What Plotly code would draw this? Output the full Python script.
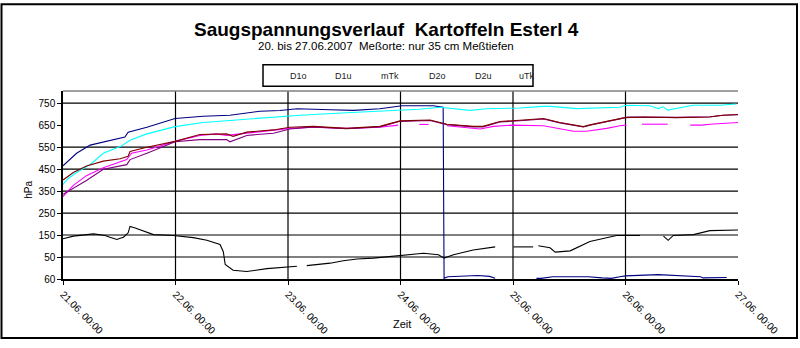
import plotly.graph_objects as go

# ---- data (hours since 21.06. 00:00) ----
tick_hours = [0, 24, 48, 72, 96, 120, 144]
tick_labels = ["21.06. 00:00", "22.06. 00:00", "23.06. 00:00", "24.06. 00:00",
               "25.06. 00:00", "26.06. 00:00", "27.06. 00:00"]
y_ticks = [-50, 50, 150, 250, 350, 450, 550, 650, 750]
y_ticklabels = ["60", "50", "150", "250", "350", "450", "550", "650", "750"]
y_grid = [50, 150, 250, 350, 450, 550, 750]
day_grid = [24, 48, 72, 96, 120]

legend_names = ["D1o", "D1u", "mTk", "D2o", "D2u", "uTk"]

t_d1o = [0, 1, 2.9, 5.8, 10, 13.2, 13.9, 17.9, 23.9, 29.9, 35.6, 42, 46.3, 48.4, 50, 57, 62,
         67.6, 69.5, 72.3, 79, 81.1, 81.3, 82.1, 88.5, 91, 92.2, None, 101, 102, 104.5, 110,
         112, 115, 117, 118.8, 120, 127, 132, 136, 136.5, 141, 141.6]
v_d1o = [465, 485, 522, 559, 581, 596, 618, 640, 680, 690, 695, 713, 716, 720, 724, 720, 717,
         724, 730, 738, 738, 731, -47, -40, -34, -38, -47, None, -47, -47, -40, -38,
         -40, -45, -47, -40, -36, -30, -36, -40, -45, -43, -43]

t_d1u = [0, 2.2, 5, 8.6, 13.6, 14.6, 17.9, 23.9, 29.2, 32.7, 34.9, 39.2, 44.9, 48.4, 53.4,
         60.5, 67.6, 69.8, 71.5, None, 76, 78, None, 81.9, 86.1, 89, 91.8, 96, 102.5, 106,
         108.9, 111.7, 116, 118.8, 120.2, None, 123.5, 129, None, 133.8, 136.3, 138, 142.3, 144]
v_d1u = [325, 376, 420, 456, 493, 522, 537, 576, 603, 610, 603, 613, 625, 635, 640,
         635, 640, 647, 650, None, 653, 653, None, 647, 640, 632, 644, 650, 647, 635,
         622, 622, 635, 647, 650, None, 654, 654, None, 650, 650, 654, 662, 662]

t_mtk = [0, 2.2, 6.5, 9, 10, 11.5, 12.2, 12.9, 13.9, 14.3, 15.4, 17.1, 19.3, 23.5, 27.8,
         30.7, 33.5, 34.2, 34.6, 36.3, 39.2, 43.5, 49.9, None, 52, 56.3, 57, 59.8, 62.7,
         66.2, 71.5, 76.9, 80.1, 81.3, 83.3, 87.5, 92.2, None, 96.1, 100.3, None, 101.4,
         103.9, 105, 108.2, 112.4, 118.1, 123.1, None, 128.1, 129.1, 130.2, 134.5, 138, 144]
v_mtk = [133, 145, 155, 148, 140, 130, 135, 140, 160, 189, 182, 170, 152, 148, 138,
         126, 107, 74, 16, -10, -16, -3, 8, None, 11, 19, 22, 33, 41,
         45, 55, 67, 60, 45, 60, 82, 96, None, 96, 96, None, 101,
         92, 72, 78, 121, 148, 148, None, 145, 126, 148, 152, 170, 173]

t_d2o = [0, 1, 2.9, 5.8, 8.6, 12.2, 14.3, 17.9, 23.9, 29.9, 36.3, 42, 46.3, 50.6, 60.5, 67.6,
         71.9, 76, 80.4, 83.2, 86.8, 90.4, 95.4, 97.5, 102.4, 104, 109.6, 118.8, 120.2, 125.2,
         127, 128, 129, 130, 131, 132, 134.4, 140, 143.7]
v_d2o = [380, 405, 434, 471, 522, 552, 581, 610, 643, 662, 672, 681, 690, 695, 706, 713,
         717, 722, 731, 725, 717, 724, 725, 728, 735, 735, 725, 731, 740, 738,
         725, 733, 718, 722, 728, 731, 740, 740, 746]

t_d2u = [0, 1.5, 5, 8.6, 12.2, 13.6, 14.3, 17.9, 23.9, 29.2, 34.9, 35.6, 39.2, 44.9, 48.4,
         53.4, 60.5, 67.6, 71.9, 78.3, 81.9, 87.5, 89.6, 93.2, 97.5, 102.5, 106, 111, 112.4,
         116.7, 119.9, 120.5, 130.9, 136, 138, 140.8, 144]
v_d2u = [335, 354, 398, 449, 464, 470, 493, 522, 574, 584, 584, 574, 603, 613, 632,
         642, 633, 642, 667, 671, 652, 642, 642, 664, 670, 678, 660, 641, 649,
         667, 682, 686, 685, 686, 688, 695, 697]

t_utk = [0, 2.2, 5, 8.6, 12.2, 13.9, 14.3, 17.9, 23.9, 29.2, 34.9, 36.3, 39.2, 44.9, 48.4,
         53.4, 60.5, 67.6, 71.9, 78.3, 81.9, 87.5, 89.6, 93.2, 97.5, 102.5, 106, 111, 112.4,
         116.7, 119.9, 123.8, 130.9, 138, 140.8, 144]
v_utk = [400, 434, 464, 486, 497, 508, 530, 549, 576, 607, 610, 599, 618, 628, 640,
         644, 635, 644, 669, 673, 654, 644, 644, 666, 672, 680, 662, 643, 651,
         669, 684, 687, 684, 687, 695, 698]

series = [
    ("D1o", t_d1o, v_d1o, "#000080"),
    ("D2o", t_d2o, v_d2o, "#00FFFF"),
    ("D1u", t_d1u, v_d1u, "#FF00FF"),
    ("D2u", t_d2u, v_d2u, "#800080"),
    ("uTk", t_utk, v_utk, "#800000"),
    ("mTk", t_mtk, v_mtk, "#000000"),
]

FONT = "Liberation Sans, Arial, sans-serif"

fig = go.Figure()
for name, t, v, c in series:
    fig.add_trace(go.Scatter(x=t, y=v, mode="lines", name=name,
                             line=dict(color=c, width=1.1), connectgaps=False,
                             showlegend=False))

shapes = []
for yv in y_grid:
    shapes.append(dict(type="line", xref="paper", yref="y", x0=0, x1=1, y0=yv, y1=yv,
                       line=dict(color="black", width=1.2), layer="below"))
for xv in day_grid:
    shapes.append(dict(type="line", xref="x", yref="paper", x0=xv, x1=xv, y0=0, y1=1,
                       line=dict(color="black", width=1.2), layer="below"))
# plot-area top border (gray)
shapes.append(dict(type="line", xref="paper", yref="paper", x0=0, x1=1, y0=1, y1=1,
                   line=dict(color="#808080", width=1.5)))

# outer chart frame and legend box (pixel -> paper conversion)
L, R, T, B = 63, 738, 91, 285
def px(x):
    return (x - L) / (R - L)
def py(y):
    return (B - y) / (B - T)

shapes.append(dict(type="rect", xref="paper", yref="paper",
                   x0=px(1.5), x1=px(797), y0=py(346), y1=py(1.5),
                   line=dict(color="black", width=2)))
shapes.append(dict(type="rect", xref="paper", yref="paper",
                   x0=px(263), x1=px(533), y0=py(86), y1=py(64),
                   line=dict(color="black", width=1.5)))

annotations = [
    dict(text="<b>Saugspannungsverlauf  Kartoffeln Esterl 4</b>", xref="paper", yref="paper",
         x=px(386), y=py(28), showarrow=False, font=dict(size=19, color="black", family=FONT),
         xanchor="center", yanchor="middle"),
    dict(text="20. bis 27.06.2007  Meßorte: nur 35 cm Meßtiefen", xref="paper", yref="paper",
         x=px(386), y=py(45), showarrow=False, font=dict(size=11.5, color="black", family=FONT),
         xanchor="center", yanchor="middle"),
    dict(text="hPa", xref="paper", yref="paper", x=px(29), y=py(193), showarrow=False,
         textangle=-90, font=dict(size=10, color="black", family=FONT),
         xanchor="center", yanchor="middle"),
    dict(text="Zeit", xref="paper", yref="paper", x=px(402), y=py(331), showarrow=False,
         font=dict(size=11, color="black", family=FONT), xanchor="center", yanchor="middle"),
]
leg_x = [298, 343, 390, 437, 483, 527]
for name, lx in zip(legend_names, leg_x):
    annotations.append(dict(text=name, xref="paper", yref="paper", x=px(lx), y=py(76),
                            showarrow=False, font=dict(size=9, color="#222", family=FONT),
                            xanchor="center", yanchor="middle"))

fig.update_layout(
    width=800, height=348,
    margin=dict(l=L, r=800 - R, t=T, b=348 - B),
    paper_bgcolor="white", plot_bgcolor="white",
    font=dict(family=FONT, color="black"),
    shapes=shapes, annotations=annotations,
    showlegend=False,
    xaxis=dict(range=[0, 144], tickvals=tick_hours, ticktext=tick_labels, tickangle=45,
               showgrid=False, zeroline=False, showline=True, linecolor="black", linewidth=1.5,
               ticks="outside", ticklen=4, tickcolor="black",
               tickfont=dict(size=10, color="black", family=FONT)),
    yaxis=dict(range=[-50, 805], tickvals=y_ticks, ticktext=y_ticklabels,
               showgrid=False, zeroline=False, showline=True, linecolor="black", linewidth=1.5,
               ticks="outside", ticklen=4, tickcolor="black",
               tickfont=dict(size=10, color="black", family=FONT)),
)

fig.write_html("out.html")
